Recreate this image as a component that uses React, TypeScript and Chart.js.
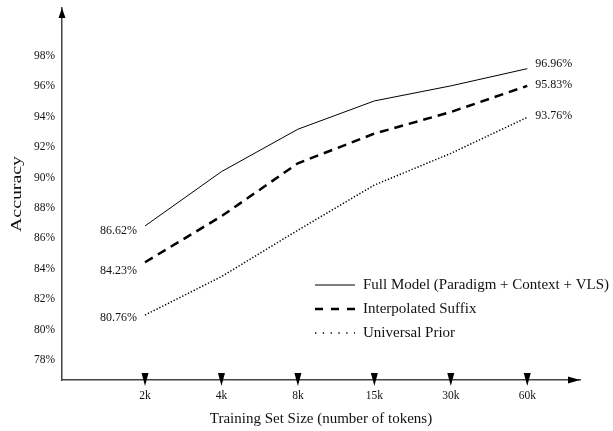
import React, { useEffect, useRef } from "react";
import { Chart, registerables } from "chart.js";

Chart.register(...registerables);

const categories = ["2k", "4k", "8k", "15k", "30k", "60k"];
const seriesNames = ["Full Model (Paradigm + Context + VLS)", "Interpolated Suffix", "Universal Prior"];
const fullModel = [86.62, 90.19, 92.98, 94.84, 95.83, 96.96];
const interpolatedSuffix = [84.23, 87.26, 90.74, 92.69, 94.11, 95.83];
const universalPrior = [80.76, 83.29, 86.34, 89.31, 91.39, 93.76];
const yTicks = [78, 80, 82, 84, 86, 88, 90, 92, 94, 96, 98];
const xTitle = "Training Set Size (number of tokens)";
const yTitle = "Accuracy";

const SERIF = "'Liberation Serif', 'DejaVu Serif', serif";
const TEXT = "#111";
const AXIS = "#444";

// label placement (layout only)
const leftLabelDy = [5, 9, 3];
const rightLabelDy = [-5, -1, -2];

const styles = [
  { width: 1, dash: [] as number[], legendDash: [] as number[] },
  { width: 2.5, dash: [9, 6], legendDash: [8, 8] },
  { width: 1.5, dash: [1.3, 1.9], legendDash: [1.3, 6.5] },
];

const fmt = (v: number) => v.toFixed(2) + "%";

const decorPlugin = {
  id: "decor",
  afterDraw(chart: any) {
    const ctx: CanvasRenderingContext2D = chart.ctx;
    const { left, right, top, bottom } = chart.chartArea;
    const xs = chart.scales.x;
    const ys = chart.scales.y;
    ctx.save();
    ctx.fillStyle = "#000";
    // y arrow
    ctx.beginPath();
    ctx.moveTo(left, top);
    ctx.lineTo(left - 3.5, top + 10);
    ctx.lineTo(left + 3.5, top + 10);
    ctx.closePath();
    ctx.fill();
    // x arrow
    ctx.beginPath();
    ctx.moveTo(right, bottom);
    ctx.lineTo(right - 12, bottom - 3.5);
    ctx.lineTo(right - 12, bottom + 3.5);
    ctx.closePath();
    ctx.fill();
    // tick triangles
    categories.forEach((_, i) => {
      const px = xs.getPixelForValue(i);
      ctx.beginPath();
      ctx.moveTo(px - 3.5, bottom - 7);
      ctx.lineTo(px + 3.5, bottom - 7);
      ctx.lineTo(px, bottom + 6);
      ctx.closePath();
      ctx.fill();
    });
    // data labels
    ctx.fillStyle = TEXT;
    ctx.font = `12px ${SERIF}`;
    ctx.textBaseline = "middle";
    const all = [fullModel, interpolatedSuffix, universalPrior];
    all.forEach((arr, si) => {
      const x0 = xs.getPixelForValue(0);
      const y0 = ys.getPixelForValue(arr[0]);
      ctx.textAlign = "right";
      ctx.fillText(fmt(arr[0]), x0 - 8, y0 + leftLabelDy[si]);
      const n = arr.length - 1;
      const x1 = xs.getPixelForValue(n);
      const y1 = ys.getPixelForValue(arr[n]);
      ctx.textAlign = "left";
      ctx.fillText(fmt(arr[n]), x1 + 8, y1 + rightLabelDy[si]);
    });
    // legend
    const lx = 315;
    const rows = [285, 309, 333];
    ctx.font = `15px ${SERIF}`;
    ctx.textAlign = "left";
    seriesNames.forEach((name, i) => {
      const st = styles[i];
      ctx.strokeStyle = "#000";
      ctx.lineWidth = st.width;
      ctx.setLineDash(st.legendDash);
      ctx.beginPath();
      ctx.moveTo(lx, rows[i]);
      ctx.lineTo(lx + 40, rows[i]);
      ctx.stroke();
      ctx.setLineDash([]);
      ctx.fillText(name, lx + 48, rows[i]);
    });
    // axis titles
    ctx.textAlign = "center";
    ctx.fillText(xTitle, (left + right) / 2, 419);
    ctx.save();
    ctx.translate(17, (top + bottom) / 2);
    ctx.rotate(-Math.PI / 2);
    ctx.font = `14px ${SERIF}`;
    const w = ctx.measureText(yTitle).width;
    ctx.scale(76 / w, 1);
    ctx.fillText(yTitle, 0, 0);
    ctx.restore();
    ctx.restore();
  },
};

export default function App() {
  const ref = useRef<HTMLCanvasElement>(null);
  useEffect(() => {
    if (!ref.current) return;
    const mk = (label: string, data: number[], i: number) => ({
      label,
      data: data.map((v, k) => ({ x: k, y: v })),
      borderColor: "#000",
      borderWidth: styles[i].width,
      borderDash: styles[i].dash,
      pointRadius: 0,
      tension: 0,
      fill: false,
    });
    const chart = new Chart(ref.current, {
      type: "line",
      data: {
        datasets: [
          mk(seriesNames[0], fullModel, 0),
          mk(seriesNames[1], interpolatedSuffix, 1),
          mk(seriesNames[2], universalPrior, 2),
        ],
      },
      options: {
        animation: false,
        responsive: true,
        maintainAspectRatio: false,
        layout: { padding: { left: 0, right: 33, top: 8, bottom: 0 } },
        plugins: { legend: { display: false }, tooltip: { enabled: false } },
        scales: {
          x: {
            type: "linear",
            min: -1.086,
            max: 5.69,
            grid: { display: false, drawTicks: false },
            border: { display: true, color: AXIS, width: 1.5 },
            afterBuildTicks: (s: any) => {
              s.ticks = categories.map((_, i) => ({ value: i }));
            },
            afterFit: (s: any) => {
              s.height = 51;
              s.paddingLeft = 0;
              s.paddingRight = 0;
            },
            ticks: {
              padding: 9,
              color: TEXT,
              font: { family: SERIF, size: 11.5 },
              callback: (v: any) => categories[Math.round(Number(v))] ?? "",
              maxRotation: 0,
              autoSkip: false,
            },
          },
          y: {
            type: "linear",
            min: 76.49,
            max: 100.95,
            grid: { display: false, drawTicks: false },
            border: { display: true, color: AXIS, width: 1.5 },
            afterBuildTicks: (s: any) => {
              s.ticks = yTicks.map((v) => ({ value: v }));
            },
            afterFit: (s: any) => {
              s.width = 62;
              s.paddingTop = 0;
              s.paddingBottom = 0;
            },
            ticks: {
              padding: 7,
              labelOffset: 3,
              color: TEXT,
              font: { family: SERIF, size: 11.5 },
              callback: (v: any) => `${v}%`,
              autoSkip: false,
            },
          },
        },
      },
      plugins: [decorPlugin],
    });
    return () => chart.destroy();
  }, []);
  return (
    <div style={{ position: "fixed", left: 0, top: 0, width: 613, height: 431, background: "#fff" }}>
      <canvas ref={ref} />
    </div>
  );
}
